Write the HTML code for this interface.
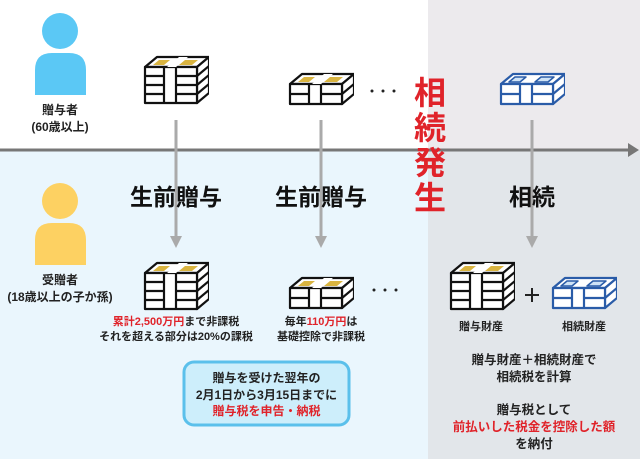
<!DOCTYPE html>
<html><head><meta charset="utf-8"><style>
body{margin:0;width:640px;height:459px;overflow:hidden;background:#fff;font-family:"Liberation Sans","Noto Sans CJK JP",sans-serif;}
.t{position:absolute;text-align:center;font-weight:bold;white-space:nowrap;color:#222;}
.r{color:#e0232a;}
</style></head><body>
<svg width="640" height="459" style="position:absolute;left:0;top:0">
<defs>
<symbol id="tall" viewBox="0 0 66 50">
<g stroke="#111" stroke-width="2.2" fill="#fff" stroke-linejoin="round">
<polygon points="2,12 14,2 66,2 54,12"/>
<polygon points="54,12 66,2 66,38 54,48"/>
<rect x="2" y="12" width="52" height="36"/>
<line x1="21" y1="12" x2="21" y2="48"/><line x1="33" y1="12" x2="33" y2="48"/>
<line x1="2" y1="21" x2="21" y2="21"/><line x1="2" y1="30" x2="21" y2="30"/><line x1="2" y1="39" x2="21" y2="39"/>
<line x1="33" y1="21" x2="54" y2="21"/><line x1="33" y1="30" x2="54" y2="30"/><line x1="33" y1="39" x2="54" y2="39"/>
<line x1="54" y1="21" x2="66" y2="11"/><line x1="54" y1="30" x2="66" y2="20"/><line x1="54" y1="39" x2="66" y2="29"/>
</g>
<polygon points="10,10 16,5 27,5 21,10" fill="#d9b440"/>
<polygon points="36,10 42,5 55,5 49,10" fill="#d9b440"/>
<polygon points="24,12 36,2 45,2 33,12" fill="#fff"/>
</symbol>
<symbol id="short" viewBox="0 0 66 34">
<g stroke="#111" stroke-width="2.2" fill="#fff" stroke-linejoin="round">
<polygon points="2,12 14,2 66,2 54,12"/>
<polygon points="54,12 66,2 66,22 54,32"/>
<rect x="2" y="12" width="52" height="20"/>
<line x1="21" y1="12" x2="21" y2="32"/><line x1="33" y1="12" x2="33" y2="32"/>
<line x1="2" y1="22" x2="21" y2="22"/><line x1="33" y1="22" x2="54" y2="22"/>
<line x1="54" y1="22" x2="66" y2="12"/>
</g>
<polygon points="10,10 16,5 27,5 21,10" fill="#d9b440"/>
<polygon points="36,10 42,5 55,5 49,10" fill="#d9b440"/>
<polygon points="24,12 36,2 45,2 33,12" fill="#fff"/>
</symbol>
<symbol id="blue" viewBox="0 0 66 34">
<g stroke="#2a5ca8" stroke-width="2.2" fill="#fff" stroke-linejoin="round">
<polygon points="2,12 14,2 66,2 54,12"/>
<polygon points="54,12 66,2 66,22 54,32"/>
<rect x="2" y="12" width="52" height="20"/>
<line x1="21" y1="12" x2="21" y2="32"/><line x1="33" y1="12" x2="33" y2="32"/>
<line x1="2" y1="22" x2="21" y2="22"/><line x1="33" y1="22" x2="54" y2="22"/>
<line x1="54" y1="22" x2="66" y2="12"/>
<polygon points="10,10 16,5 27,5 21,10" fill="#cfe3f6" stroke-width="1.5"/>
<polygon points="36,10 42,5 55,5 49,10" fill="#cfe3f6" stroke-width="1.5"/>
</g>
</symbol>
</defs>
<rect x="0" y="150" width="428" height="309" fill="#eaf6fd"/>
<rect x="428" y="0" width="212" height="150" fill="#eceaed"/>
<rect x="428" y="150" width="212" height="309" fill="#e2e6ea"/>
<!-- persons -->
<circle cx="60" cy="31" r="18" fill="#5bc8f5"/>
<path d="M35,95 V70 Q35,53 52,53 H69 Q86,53 86,70 V95 Z" fill="#5bc8f5"/>
<circle cx="60" cy="201" r="18" fill="#fdd162"/>
<path d="M35,265 V240 Q35,223 52,223 H69 Q86,223 86,240 V265 Z" fill="#fdd162"/>
<!-- timeline -->
<line x1="0" y1="150" x2="630" y2="150" stroke="#777" stroke-width="3"/>
<polygon points="628,143 639,150 628,157" fill="#777"/>
<!-- vertical arrows -->
<g stroke="#aaa" stroke-width="3">
<line x1="176" y1="120" x2="176" y2="238"/>
<line x1="321" y1="120" x2="321" y2="238"/>
<line x1="532" y1="120" x2="532" y2="238"/>
</g>
<g fill="#aaa">
<polygon points="170,236 182,236 176,248"/>
<polygon points="315,236 327,236 321,248"/>
<polygon points="526,236 538,236 532,248"/>
</g>
<use href="#tall" x="143" y="55" width="66" height="50"/>
<use href="#short" x="288" y="72" width="66" height="34"/>
<use href="#blue" x="499" y="72" width="66" height="34"/>
<use href="#tall" x="143" y="261" width="66" height="50"/>
<use href="#short" x="288" y="276" width="66" height="34"/>
<use href="#tall" x="449" y="261" width="66" height="50"/>
<use href="#blue" x="551" y="276" width="66" height="34"/>
<g fill="#222"><circle cx="372" cy="91" r="1.5"/><circle cx="383" cy="91" r="1.5"/><circle cx="394" cy="91" r="1.5"/>
<circle cx="374" cy="290" r="1.5"/><circle cx="385" cy="290" r="1.5"/><circle cx="396" cy="290" r="1.5"/></g>
<line x1="525" y1="295" x2="539" y2="295" stroke="#222" stroke-width="2"/>
<line x1="532" y1="288" x2="532" y2="302" stroke="#222" stroke-width="2"/>
<rect x="184" y="362" width="165" height="63" rx="10" fill="#cdeefb" stroke="#5bc0eb" stroke-width="3"/>
</svg>
<div class="t" style="left:0;width:120px;top:102px;font-size:12px;line-height:17px">贈与者<br>(60歳以上)</div>
<div class="t" style="left:0;width:120px;top:272px;font-size:12px;line-height:17px">受贈者<br>(18歳以上の子か孫)</div>
<div class="t" style="left:116px;width:120px;top:178px;font-size:23px;color:#111">生前贈与</div>
<div class="t" style="left:261px;width:120px;top:178px;font-size:23px;color:#111">生前贈与</div>
<div class="t" style="left:492px;width:80px;top:178px;font-size:23px;color:#111">相続</div>
<div class="t r" style="left:412px;width:36px;top:76px;font-size:32px;line-height:35px">相<br>続<br>発<br>生</div>
<div class="t" style="left:76px;width:200px;top:315px;font-size:11px;line-height:15px"><span class="r">累計2,500万円</span>まで非課税<br>それを超える部分は20%の課税</div>
<div class="t" style="left:261px;width:120px;top:315px;font-size:11px;line-height:15px">毎年<span class="r">110万円</span>は<br>基礎控除で非課税</div>
<div class="t" style="left:441px;width:80px;top:318px;font-size:11px">贈与財産</div>
<div class="t" style="left:544px;width:80px;top:318px;font-size:11px">相続財産</div>
<div class="t" style="left:184px;width:165px;top:370px;font-size:12px;line-height:16.5px">贈与を受けた翌年の<br>2月1日から3月15日までに<br><span class="r">贈与税を申告・納税</span></div>
<div class="t" style="left:428px;width:212px;top:352px;font-size:12.5px;line-height:17px">贈与財産＋相続財産で<br>相続税を計算</div>
<div class="t" style="left:428px;width:212px;top:402px;font-size:12.5px;line-height:17px">贈与税として<br><span class="r">前払いした税金を控除した額</span><br>を納付</div>
</body></html>
